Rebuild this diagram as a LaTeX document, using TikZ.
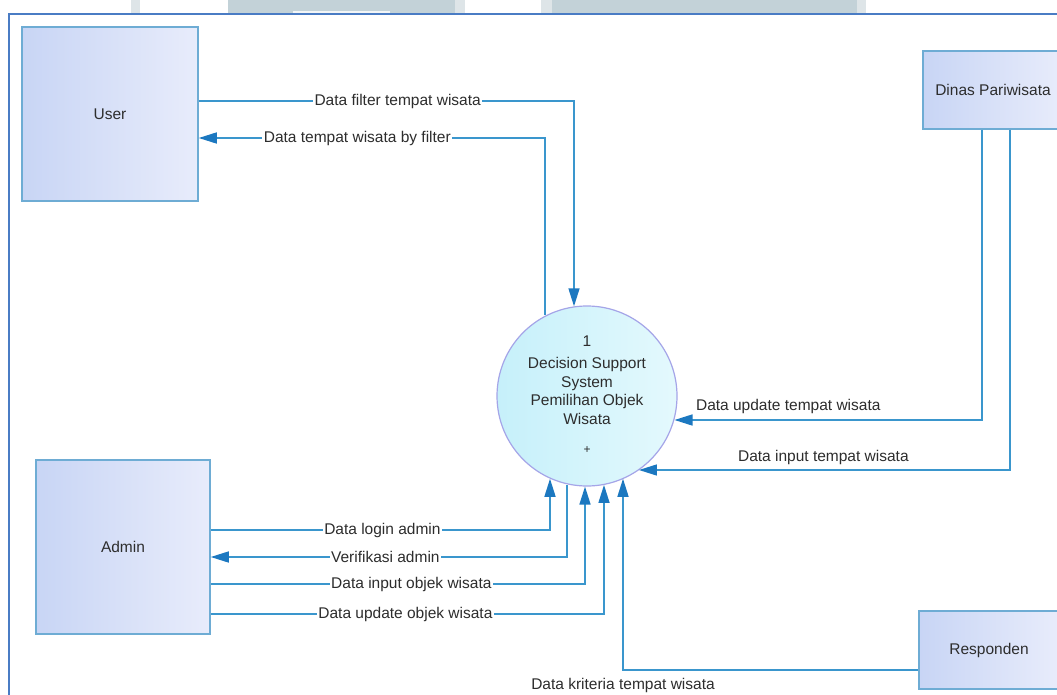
\documentclass[tikz,border=0pt]{standalone}
\usepackage{fontspec}
\setmainfont{Liberation Sans}
\usetikzlibrary{arrows.meta,calc}

\definecolor{edgeblue}{RGB}{58,150,205}
\definecolor{tipblue}{RGB}{28,120,192}
\definecolor{boxline}{RGB}{110,172,212}
\definecolor{boxleft}{RGB}{200,213,245}
\definecolor{boxright}{RGB}{232,236,251}
\definecolor{procline}{RGB}{165,165,232}
\definecolor{procleft}{RGB}{198,240,250}
\definecolor{procright}{RGB}{228,249,253}
\definecolor{frameblue}{RGB}{74,124,196}
\definecolor{inkgray}{RGB}{45,45,45}
\definecolor{stripgray}{RGB}{195,210,216}
\definecolor{stripedge}{RGB}{222,229,232}

\begin{document}
\begin{tikzpicture}[x=1pt,y=-1pt,
  every node/.style={font=\fontsize{15.5}{18.5}\selectfont, text=inkgray},
  entity/.style={rectangle, draw=boxline, line width=1.5pt,
    left color=boxleft, right color=boxright, inner sep=0pt},
  process/.style={circle, draw=procline, line width=1.2pt,
    left color=procleft, right color=procright, minimum size=180pt, inner sep=0pt},
  flow/.style={draw=edgeblue, line width=1.5pt},
  headend/.style={-{Triangle[length=18pt,width=11pt,color=tipblue]}},
  headstart/.style={{Triangle[length=18pt,width=11pt,color=tipblue]}-},
  onlbl/.style={fill=white, inner sep=1.5pt},
  offlbl/.style={inner sep=1pt},
]
\useasboundingbox (0,0) rectangle (1057,695);
\clip (0,0) rectangle (1057,695);
\fill[white] (0,0) rectangle (1057,695);

% strip along the upper edge
\fill[stripedge] (131,0) rectangle (140,13);
\fill[stripgray] (228,0) rectangle (455,13);
\fill[stripedge] (455,0) rectangle (465,13);
\fill[white!80!stripgray] (293,11) rectangle (390,13);
\fill[stripedge] (541,0) rectangle (552,13);
\fill[stripgray] (552,0) rectangle (857,13);
\fill[stripedge] (857,0) rectangle (866,13);

% outer frame
\draw[frameblue, line width=2pt] (1070,14) -- (9,14) -- (9,710);

% external entities
\node[entity, minimum width=176pt, minimum height=174pt] (user) at (110,114) {User};
\node[entity, minimum width=174pt, minimum height=174pt] (admin) at (123,547) {Admin};
\node[entity, minimum width=140pt, minimum height=78pt] (dinas) at (993,90) {Dinas Pariwisata};
\node[entity, minimum width=140pt, minimum height=78pt] (resp) at (989,650) {Responden};

% process
\node[process] (proc) at (587,396) {};
\node[align=center, inner sep=0pt] (ptext) at (587,380)
  {1\\[4pt]Decision Support\\System\\Pemilihan Objek\\Wisata};
\node[font=\fontsize{12}{14}\selectfont, inner sep=0pt] (pplus) at (587,450) {+};

% user flows
\coordinate (kf) at (574,101);
\draw[flow,headend] (user.east |- kf)
  -- node[onlbl,pos=0.53]{Data filter tempat wisata} (kf) -- (kf |- proc.98.3);
\coordinate (kb) at (545,138);
\draw[flow,headstart] (user.east |- kb)
  -- node[onlbl,pos=0.458]{Data tempat wisata by filter} (kb) -- (kb |- proc.117.8);

% dinas pariwisata flows
\coordinate (du) at (982,420);
\draw[flow,headend] (dinas.south -| du) -- (du)
  -- node[offlbl,pos=0.63,yshift=14pt]{Data update tempat wisata} (proc.-15.5 |- du);
\coordinate (di) at (1010,470);
\draw[flow,headend] (dinas.south -| di) -- (di)
  -- node[offlbl,pos=0.503,yshift=13pt]{Data input tempat wisata} (proc.-55.3 |- di);

% admin flows
\coordinate (al) at (550,530);
\draw[flow,headend] (admin.east |- al)
  -- node[onlbl,pos=0.506]{Data login admin} (al) -- (al |- proc.-114.3);
\coordinate (av) at (567,557);
\draw[flow,headstart] (admin.east |- av)
  -- node[onlbl,pos=0.49]{Verifikasi admin} (av) -- (av |- proc.-102.8);
\coordinate (ai) at (585,584);
\draw[flow,headend] (admin.east |- ai)
  -- node[onlbl,pos=0.536]{Data input objek wisata} (ai) -- (ai |- proc.-91.3);
\coordinate (au) at (604,614);
\draw[flow,headend] (admin.east |- au)
  -- node[onlbl,pos=0.495]{Data update objek wisata} (au) -- (au |- proc.-79.1);

% responden flow
\coordinate (rk) at (623,670);
\draw[flow,headend] (resp.west |- rk)
  -- node[offlbl,pos=1,yshift=-15pt]{Data kriteria tempat wisata} (rk) -- (rk |- proc.-66.4);
\end{tikzpicture}
\end{document}
